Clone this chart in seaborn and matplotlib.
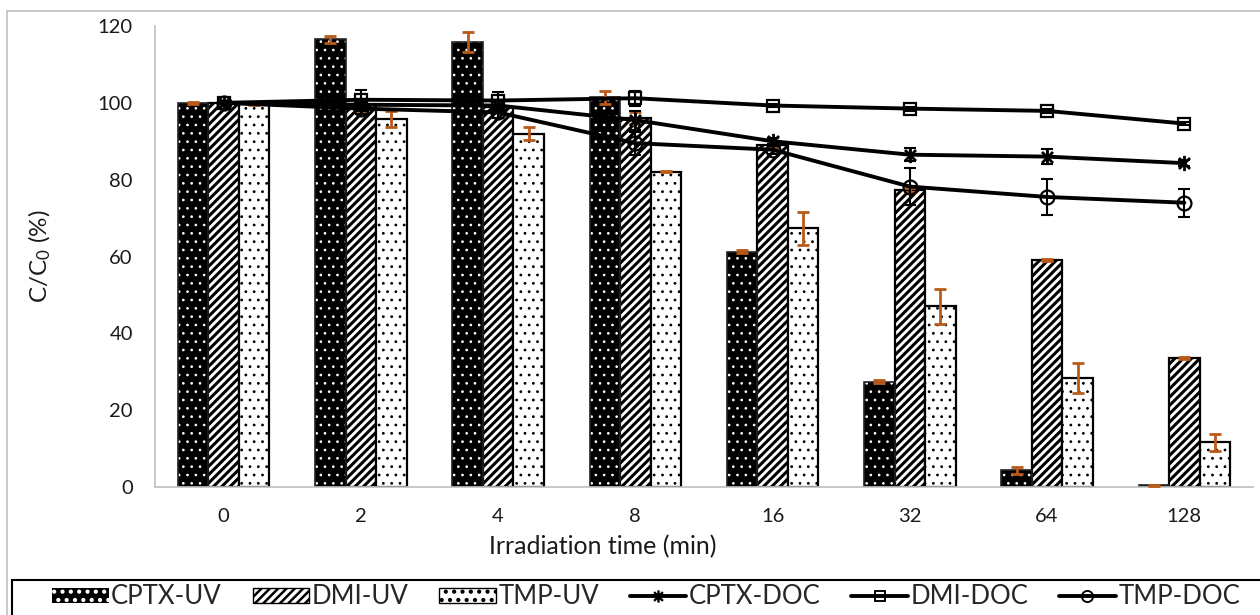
import numpy as np
import pandas as pd
import matplotlib
matplotlib.use("Agg")
import matplotlib.pyplot as plt
import seaborn as sns
from matplotlib.patches import Rectangle
from matplotlib.lines import Line2D
from matplotlib.path import Path

# ---------------- data ----------------
times = ["0", "2", "4", "8", "16", "32", "64", "128"]

uv_names = ["CPTX-UV", "DMI-UV", "TMP-UV"]
cptx_uv = [100.0, 116.5, 115.8, 101.5, 61.3, 27.4, 4.3, 0.4]
dmi_uv = [100.0, 99.5, 99.0, 96.0, 89.0, 77.3, 59.1, 33.5]
tmp_uv = [99.6, 95.9, 92.0, 82.1, 67.3, 47.0, 28.4, 11.7]
cptx_uv_err = [0.3, 0.8, 2.6, 1.7, 0.3, 0.4, 1.0, 0.2]
dmi_uv_err = [0.3, 1.5, 1.5, 1.5, 0.5, 0.5, 0.3, 0.3]
tmp_uv_err = [0.2, 2.1, 1.6, 0.2, 4.2, 4.5, 3.9, 2.2]

doc_names = ["CPTX-DOC", "DMI-DOC", "TMP-DOC"]
cptx_doc = [100.0, 99.5, 99.3, 95.5, 90.0, 86.5, 86.0, 84.3]
dmi_doc = [100.0, 100.8, 100.6, 101.2, 99.3, 98.5, 97.9, 94.6]
tmp_doc = [100.0, 98.5, 97.5, 89.5, 87.8, 78.2, 75.5, 74.0]
cptx_doc_err = [0.3, 1.5, 1.5, 2.5, 0.8, 1.75, 2.0, 0.8]
dmi_doc_err = [0.3, 2.6, 2.2, 2.0, 0.5, 0.5, 0.5, 0.5]
tmp_doc_err = [0.3, 1.5, 1.5, 3.0, 1.0, 4.8, 4.8, 3.6]

y_ticks = [0, 20, 40, 60, 80, 100, 120]

# ---------------- style ----------------
sns.set_theme(style="white")
plt.rcParams["font.family"] = ["Lato", "DejaVu Sans"]
plt.rcParams["mathtext.fontset"] = "custom"
plt.rcParams["mathtext.rm"] = "Lato"
plt.rcParams["mathtext.it"] = "Lato:italic"
plt.rcParams["hatch.linewidth"] = 1.8

W, H = 1260, 615
fig = plt.figure(figsize=(W / 100, H / 100), dpi=100)
ax_l, ax_r, ax_t, ax_b = 155, 1253, 26, 487
ax = fig.add_axes([ax_l / W, 1 - ax_b / H, (ax_r - ax_l) / W, (ax_b - ax_t) / H])

# ---------------- bars ----------------
df = pd.DataFrame({
    "time": times * 3,
    "value": cptx_uv + dmi_uv + tmp_uv,
    "series": sum([[n] * len(times) for n in uv_names], []),
})
sns.barplot(data=df, x="time", y="value", hue="series", order=times,
            hue_order=uv_names, palette=["black", "white", "white"],
            saturation=1, width=0.667, gap=0, errorbar=None, legend=False,
            linewidth=0, ax=ax, zorder=2)

def set_hlw(p, lw):
    if hasattr(p, "set_hatch_linewidth"):
        p.set_hatch_linewidth(lw)
    else:
        p._hatch_linewidth = lw

HATCH = {0: ("..", 0.7), 1: ("////", 2.2), 2: ("..", 0.8)}

uv_errs = [cptx_uv_err, dmi_uv_err, tmp_uv_err]
for i, cont in enumerate(ax.containers[:3]):
    xs, hs = [], []
    for p in cont.patches:
        x, y, w, h = p.get_x(), p.get_y(), p.get_width(), p.get_height()
        xs.append(x + w / 2)
        hs.append(y + h)
        hp, hl = HATCH[i]
        p.set_hatch(hp)
        set_hlw(p, hl)
        if i == 0:
            p.set_facecolor("black")
            p.set_edgecolor("white")
            p.set_linewidth(0)
            ax.add_patch(Rectangle((x, y), w, h, fill=False, edgecolor="#222222",
                                   linewidth=1.2, zorder=2.5))
        else:
            p.set_facecolor("white")
            p.set_edgecolor("black")
            p.set_linewidth(1.6)
    ax.errorbar(xs, hs, yerr=uv_errs[i], fmt="none", ecolor="#B85A1A",
                elinewidth=2, capsize=4.3, capthick=2, zorder=4)

# ---------------- lines ----------------
pos = np.arange(len(times))
ast = Path([(0, -1), (0, 1), (-0.72, -0.72), (0.72, 0.72), (-0.72, 0.72), (0.72, -0.72)],
           [Path.MOVETO, Path.LINETO, Path.MOVETO, Path.LINETO, Path.MOVETO, Path.LINETO])
doc_vals = [cptx_doc, dmi_doc, tmp_doc]
doc_errs = [cptx_doc_err, dmi_doc_err, tmp_doc_err]
doc_markers = [ast, "s", "o"]
doc_msize = [11, 9, 10]
doc_mew = [2.0, 1.6, 1.6]
for vals, errs, mk, ms, mw in zip(doc_vals, doc_errs, doc_markers, doc_msize, doc_mew):
    sns.lineplot(x=pos, y=vals, ax=ax, color="black", linewidth=2.8, marker=mk,
                 markersize=ms, markerfacecolor="none", markeredgecolor="black",
                 markeredgewidth=mw, zorder=6, legend=False)
    ax.errorbar(pos, vals, yerr=errs, fmt="none", ecolor="black", elinewidth=1.5,
                capsize=4.5, capthick=1.5, zorder=7)

# ---------------- axes ----------------
ax.set_xlim(-0.5, len(times) - 0.5)
ax.set_ylim(0, 120)
ax.set_yticks(y_ticks)
ax.set_xticks(pos)
ax.set_xticklabels(times)
ax.tick_params(axis="both", length=0, labelsize=14.5, colors="#1a1a1a")
ax.tick_params(axis="y", pad=16)
ax.tick_params(axis="x", pad=15)
for s in ["top", "right"]:
    ax.spines[s].set_visible(False)
for s in ["left", "bottom"]:
    ax.spines[s].set_color("#BFBFBF")
    ax.spines[s].set_linewidth(1.2)
ax.set_xlabel("Irradiation time (min)", fontsize=18, color="#1a1a1a")
ax.xaxis.label.set_va("center")
ax.xaxis.set_label_coords((603 - ax_l) / (ax_r - ax_l), -(547 - ax_b) / (ax_b - ax_t))
ax.set_ylabel("C/C$_0$ (%)", fontsize=17.5, color="#1a1a1a")
ax.yaxis.label.set_va("center")
ax.yaxis.set_label_coords(-(ax_l - 40) / (ax_r - ax_l), 0.5)
ax.grid(False)

# ---------------- legend ----------------
h_cptx = Rectangle((0, 0), 1, 1, facecolor="black", edgecolor="white", hatch="..", linewidth=0)
h_dmi = Rectangle((0, 0), 1, 1, facecolor="white", edgecolor="black", hatch="////", linewidth=1)
h_tmp = Rectangle((0, 0), 1, 1, facecolor="white", edgecolor="black", hatch="..", linewidth=1)
set_hlw(h_cptx, 0.7); set_hlw(h_dmi, 1.8); set_hlw(h_tmp, 0.8)
handles = [h_cptx, h_dmi, h_tmp]
for mk, ms, mw in zip(doc_markers, doc_msize, doc_mew):
    handles.append(Line2D([0], [0], color="black", linewidth=2.8, marker=mk,
                          markersize=ms * 0.8, markerfacecolor="none",
                          markeredgecolor="black", markeredgewidth=mw * 0.85))
labels = uv_names + doc_names
fig.legend(handles, labels, loc="center left", ncol=6, mode="expand",
           bbox_to_anchor=(52 / W, 1 - 610 / H, (1240 - 52) / W, 26 / H),
           frameon=False, fontsize=18.5, handlelength=2.2, handleheight=0.5,
           handletextpad=0.1, borderaxespad=0, borderpad=0)

# legend box and outer chart border
fig.add_artist(Rectangle((12 / W, -0.05), 1.0, (1 - 580 / H) + 0.05,
                         transform=fig.transFigure, fill=False,
                         edgecolor="black", linewidth=1.5))
fig.add_artist(Rectangle((7 / W, -0.05), 1.0, (1 - 11 / H) + 0.05,
                         transform=fig.transFigure, fill=False,
                         edgecolor="#BFBFBF", linewidth=1.2))

fig.savefig("out.png", dpi=100, facecolor="white")
